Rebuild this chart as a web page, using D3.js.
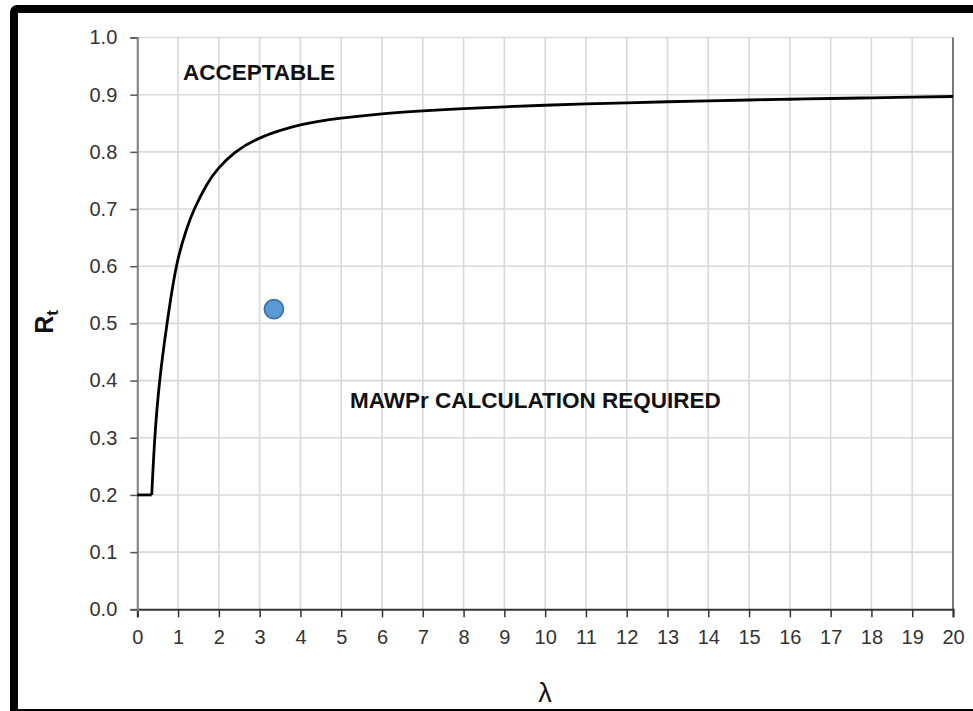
<!DOCTYPE html>
<html>
<head>
<meta charset="utf-8">
<script src="https://cdn.jsdelivr.net/npm/d3@7"></script>
<style>
  html, body { margin: 0; padding: 0; background: #fff; }
  svg { display: block; }
  text { font-family: "Liberation Sans", Arial, sans-serif; }
</style>
</head>
<body>
<svg id="chart" width="973" height="711"></svg>
<script>
// ---- data ----
const lambdaValues = [0, 0.354, 0.43, 0.55, 0.73, 0.96, 1.2, 1.4, 1.7, 2, 2.4, 3, 4, 5, 6, 7, 8, 9, 10, 11, 12, 13, 14, 15, 16, 17, 18, 19, 20];
const rtValues     = [0.2, 0.2, 0.3, 0.4, 0.5, 0.6, 0.663, 0.7, 0.742, 0.772, 0.799, 0.824, 0.847, 0.859, 0.8665, 0.8715, 0.8755, 0.8788, 0.8815, 0.8838, 0.8858, 0.8876, 0.8892, 0.8907, 0.892, 0.8933, 0.8945, 0.8957, 0.8968];
const pointLambda = [3.35];
const pointRt     = [0.525];
const xTicks = d3.range(0, 21, 1);
const yTicks = [0, 0.1, 0.2, 0.3, 0.4, 0.5, 0.6, 0.7, 0.8, 0.9, 1.0];
const labels = { acceptable: "ACCEPTABLE", required: "MAWPr CALCULATION REQUIRED", x: "λ", y: "R", ySub: "t" };

// ---- layout ----
const svg = d3.select("#chart");
const pLeft = 137.3, pRight = 953, pTop = 37.5, pBottom = 609.3;
const x = d3.scaleLinear().domain([0, 20]).range([pLeft, pRight]);
const y = d3.scaleLinear().domain([0, 1]).range([pBottom, pTop]);

// outer black frame (cropped on right/bottom)
svg.append("rect").attr("x", 14).attr("y", 9).attr("width", 1000).attr("height", 704)
  .attr("rx", 3).attr("fill", "none").attr("stroke", "#000").attr("stroke-width", 8);

// gridlines
const grid = svg.append("g");
grid.selectAll("line.v").data(xTicks.slice(1)).join("line")
  .attr("x1", d => x(d)).attr("x2", d => x(d)).attr("y1", pTop).attr("y2", pBottom)
  .attr("stroke", "#d9d9d9").attr("stroke-width", 1.6);
grid.selectAll("line.h").data(yTicks.slice(1)).join("line")
  .attr("x1", pLeft).attr("x2", pRight).attr("y1", d => y(d)).attr("y2", d => y(d))
  .attr("stroke", "#d9d9d9").attr("stroke-width", 1.6);

// right border of plot
svg.append("line").attr("x1", pRight).attr("x2", pRight).attr("y1", pTop).attr("y2", pBottom)
  .attr("stroke", "#333").attr("stroke-width", 1.2);

// axes
const xAxis = svg.append("g").attr("transform", `translate(0,${pBottom})`)
  .call(d3.axisBottom(x).tickValues(xTicks).tickSize(8).tickPadding(13).tickFormat(d3.format("d")));
xAxis.select(".domain").attr("stroke", "#333").attr("stroke-width", 2);
xAxis.selectAll(".tick line").attr("stroke", "#333").attr("stroke-width", 1.5);
xAxis.selectAll(".tick text").attr("fill", "#333").style("font-size", "20px").style("font-family", "Liberation Sans, Arial, sans-serif");

const yAxis = svg.append("g").attr("transform", `translate(${pLeft},0)`)
  .call(d3.axisLeft(y).tickValues(yTicks).tickSize(7).tickPadding(13).tickFormat(d3.format(".1f")));
yAxis.select(".domain").attr("stroke", "#888").attr("stroke-width", 2.2);
yAxis.selectAll(".tick line").attr("stroke", "#555").attr("stroke-width", 1.5);
yAxis.selectAll(".tick text").attr("fill", "#333").style("font-size", "20px").style("font-family", "Liberation Sans, Arial, sans-serif");

// curve
const pts = lambdaValues.map((l, i) => [l, rtValues[i]]);
svg.append("path").datum(pts.slice(0, 2))
  .attr("d", d3.line().x(d => x(d[0])).y(d => y(d[1])))
  .attr("fill", "none").attr("stroke", "#000").attr("stroke-width", 2.8);
svg.append("path").datum(pts.slice(1))
  .attr("d", d3.line().x(d => x(d[0])).y(d => y(d[1])).curve(d3.curveNatural))
  .attr("fill", "none").attr("stroke", "#000").attr("stroke-width", 2.8).attr("stroke-linejoin", "round");

// point
svg.selectAll("circle.pt").data(pointLambda.map((l, i) => [l, pointRt[i]])).join("circle")
  .attr("cx", d => x(d[0])).attr("cy", d => y(d[1])).attr("r", 9.5)
  .attr("fill", "#5b9bd5").attr("stroke", "#41719c").attr("stroke-width", 1.8);

// region labels
svg.append("text").attr("x", 183).attr("y", 80).text(labels.acceptable)
  .style("font-size", "22.5px").style("font-weight", "bold").attr("fill", "#111");
svg.append("text").attr("x", 350).attr("y", 408).text(labels.required)
  .style("font-size", "22.5px").style("font-weight", "bold").attr("fill", "#111");

// axis titles
svg.append("text").attr("x", 545).attr("y", 702).attr("text-anchor", "middle")
  .style("font-size", "27px").attr("fill", "#111").text(labels.x);
const yt = svg.append("text").attr("transform", "translate(53,322) rotate(-90)")
  .attr("text-anchor", "middle").style("font-size", "25px").style("font-weight", "bold").attr("fill", "#111");
yt.append("tspan").text(labels.y);
yt.append("tspan").attr("dy", 5).style("font-size", "17px").text(labels.ySub);
</script>
</body>
</html>
